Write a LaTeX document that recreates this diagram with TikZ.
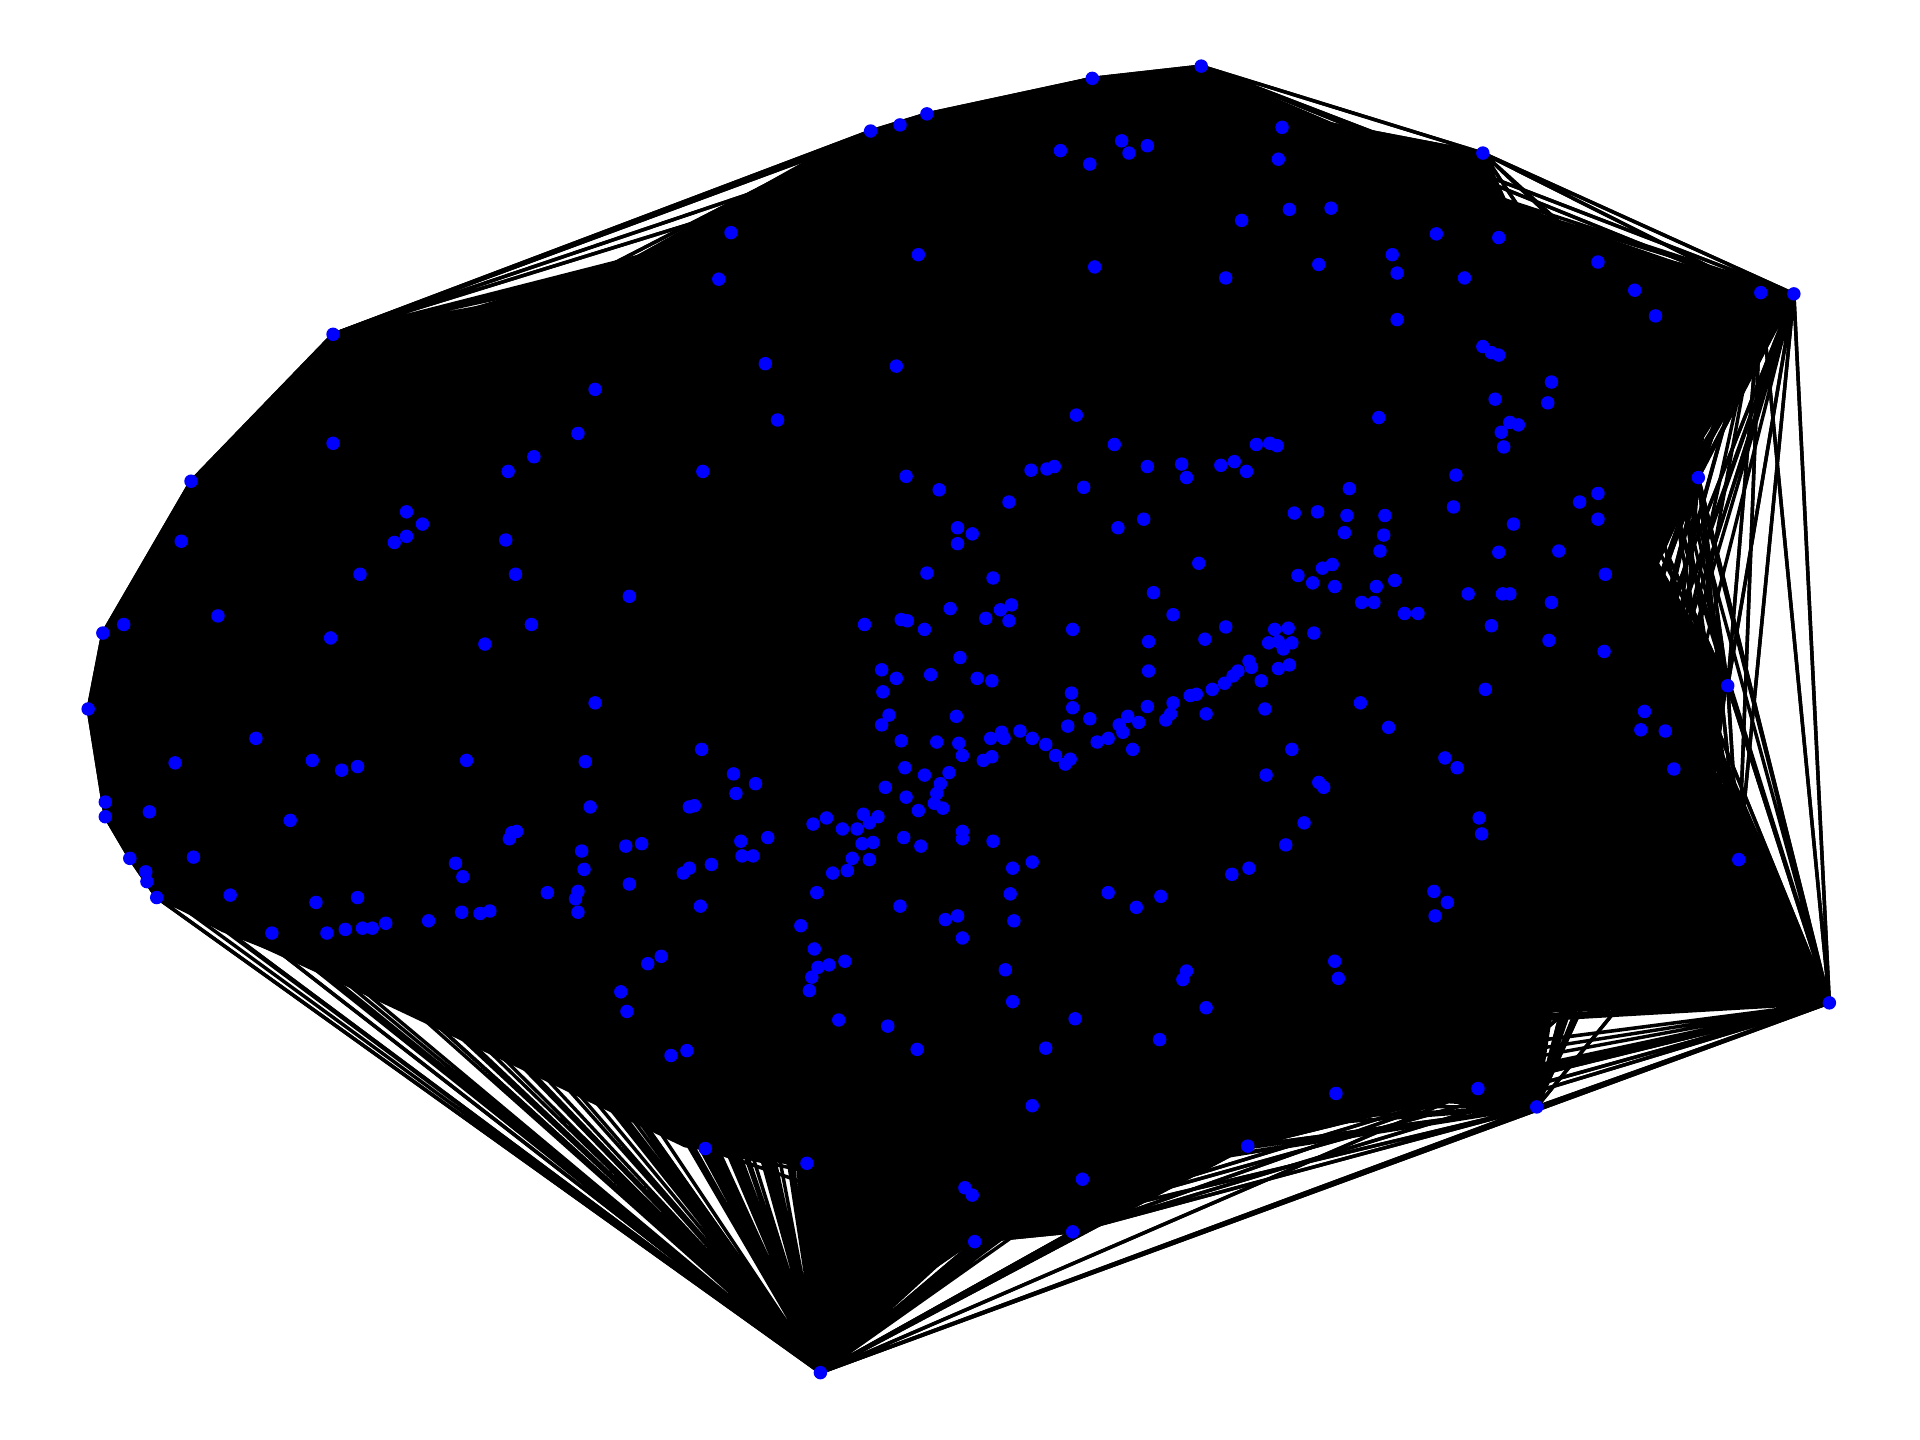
\documentclass[tikz,border=0pt]{standalone}
\definecolor{dotBlue}{RGB}{0,0,255}
\usepackage{tikz}
\usetikzlibrary{backgrounds}

\begin{document}
\begin{tikzpicture}[x=0.01cm, y=-0.01cm,
  every node/.style={circle, fill=dotBlue, inner sep=0pt, minimum size=0.11cm},
  edge/.style={line width=0.8pt, black}]
  \useasboundingbox (0,0) rectangle (1568,1176);
  % Vertices (outer ones first, they carry the fans)
  \foreach \x/\y [count=\n] in {
    981/54, 892/64, 757/93, 735/102, 711/107, 1211/125, 1438/239, 1465/240,
    272/273, 156/393, 84/517, 72/579, 86/667, 106/701, 128/733, 670/1121,
    1494/819, 1255/904, 876/1006, 796/1014, 1387/390, 1411/560, 1420/702,
    1207/889, 1019/936,
    866/123, 890/134, 916/115, 922/125, 937/119, 1047/104, 1044/130, 1053/171,
    1087/170, 1014/180, 1077/216, 1001/227, 894/218, 750/208, 597/190, 587/228,
    1137/208, 1141/223, 1173/191, 1196/227, 1224/194, 1141/261, 1305/214,
    1335/237, 1352/258, 1211/283, 1218/288, 1224/290, 1267/312, 1264/329,
    1221/326, 1233/345, 1226/353, 1240/347, 1228/365, 1126/341, 1189/388,
    1187/414,
    1290/410, 1305/403, 1305/424, 1273/450, 1311/469, 1224/451, 1236/428,
    1199/485, 1227/485, 1233/485, 1267/492, 1218/511, 1265/523, 1310/532,
    1213/563, 1343/581, 1340/596, 1360/597, 1367/628, 1180/619, 1190/627,
    1111/574, 1134/594, 1208/668, 1210/681, 1171/728, 1182/737, 1172/748,
    1102/399, 1100/421, 1131/421, 1098/435, 1130/437, 1127/450, 1076/418,
    1057/419, 1088/461, 1080/464, 1060/470, 1072/476, 1090/479, 1124/479,
    1139/474, 1112/492, 1122/492, 1147/501, 1158/501,
    1055/612, 1034/633, 1077/639, 1081/643, 1065/672, 1050/690, 1020/709,
    1006/714, 1090/785, 1093/799, 985/823, 969/793, 966/800, 947/849, 905/729,
    928/741, 948/732, 878/832, 854/856, 843/903, 884/963, 788/970, 794/976,
    827/818, 821/792, 828/752, 825/730, 827/709, 843/704, 811/687, 786/679,
    786/685, 1091/893,
    1073/517, 1052/513, 1041/514, 1036/525, 1044/524, 1048/530, 1055/525,
    1053/543, 1044/546, 1020/540, 1022/545, 1011/548, 1007/552, 1000/558,
    990/563, 977/567, 972/568, 958/574, 956/583, 937/577, 930/590, 921/585,
    914/592, 917/598, 905/603, 896/606, 890/587, 875/566, 876/578, 872/593,
    874/620, 870/624, 862/617, 854/608, 843/603, 833/597, 820/603, 818/598,
    809/603, 810/618, 803/621, 786/617, 775/631, 768/640, 765/648, 763/656,
    770/660, 750/662, 740/651, 723/643, 717/667, 705/665, 710/672, 700/677,
    688/677, 675/668, 664/673, 713/688, 704/689, 696/701, 710/702, 738/684,
    752/691, 735/740, 680/713, 667/729, 692/711, 925/612, 938/548, 952/588,
    985/583, 1030/556, 1033/579, 938/524, 958/502, 984/522, 1001/512, 942/484,
    979/460, 934/424, 913/431, 910/363, 879/339, 885/398, 824/410, 855/383,
    842/384, 861/381, 937/381, 965/379, 969/390, 997/380, 1008/377, 1018/385,
    1026/363, 1037/362, 1043/364, 782/431, 782/444, 794/436, 767/400, 740/389,
    757/468, 811/472, 876/514, 826/494, 817/498, 824/507, 805/505, 776/497,
    784/537, 798/554, 810/556, 760/551, 755/514, 736/506, 741/507, 706/510,
    720/547, 721/565, 732/554, 726/584, 720/592, 781/585, 783/607, 765/606,
    736/605, 739/627, 755/633,
    272/362, 148/442, 178/503, 101/510, 143/623, 122/663, 86/655, 158/700,
    119/712, 120/720, 188/731, 222/762, 237/670, 209/603, 255/621, 279/629,
    292/626, 270/521, 294/469, 322/443, 332/438, 345/428, 332/418, 413/441,
    421/469, 415/385, 436/373, 472/354, 486/318, 625/297, 732/299, 635/343,
    574/385, 514/487, 434/510, 396/526, 486/574, 381/621, 478/622, 482/659,
    418/680, 422/679, 416/685, 372/705, 378/716, 447/729, 475/695, 477/710,
    472/728, 470/734, 472/745, 511/691, 524/689, 514/722, 558/713, 563/709,
    581/706, 573/612, 599/632, 617/640, 601/648, 563/659, 567/658, 605/687,
    615/699, 606/699, 627/684, 572/740, 350/752, 377/745, 392/746, 400/744,
    315/754, 304/758, 296/758, 282/759, 267/762, 258/737, 292/733, 529/787,
    540/781, 507/810, 512/826, 548/862, 561/858, 576/938, 659/950, 685/833,
    725/838, 749/857, 661/809, 663/798, 668/790, 677/788, 690/785, 654/756,
    665/775, 772/751, 782/748, 786/766}
    {\node (v\n) at (\x,\y) {}; \xdef\nverts{\n}}
  \begin{scope}[on background layer]
    % Dense core of the graph
    \fill[black] (272,273) -- (318,271) -- (510,214) -- (660,130) -- (711,107)
      -- (757,93) -- (892,64) -- (981,54) -- (1100,105) -- (1211,125)
      -- (1225,160) -- (1380,225) -- (1438,239) -- (1400,300) -- (1387,390)
      -- (1355,460) -- (1400,540) -- (1411,560) -- (1400,640) -- (1420,702)
      -- (1494,819) -- (1266,827) -- (1255,904) -- (1207,889) -- (1019,936)
      -- (876,1006) -- (796,1014) -- (700,1080) -- (670,1121) -- (656,1000)
      -- (656,953) -- (559,937) -- (477,898) -- (352,838) -- (227,779)
      -- (181,761) -- (128,733) -- (106,701) -- (86,667) -- (72,579)
      -- (84,517) -- (156,393) -- cycle;
    % Edges from the outer vertices
    \foreach \i in {1,...,25}
      \draw[edge] \foreach \j in {1,...,\nverts} {(v\i.center) -- (v\j.center)};
  \end{scope}
\end{tikzpicture}
\end{document}
